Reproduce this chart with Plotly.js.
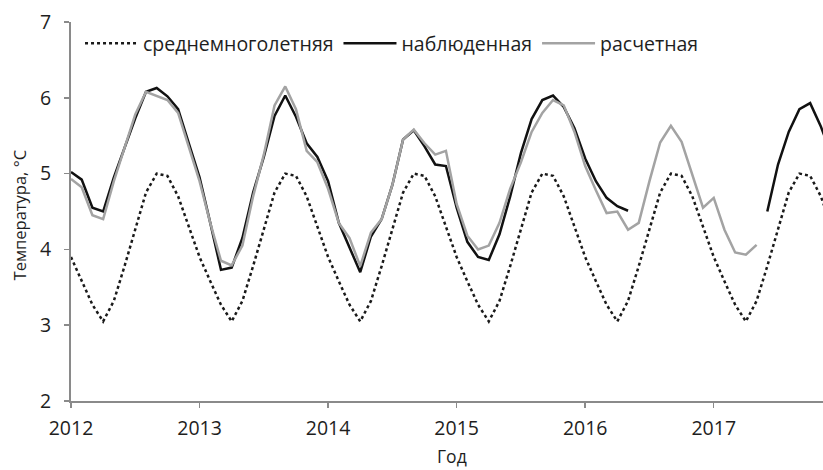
<!DOCTYPE html>
<html>
<head>
<meta charset="utf-8">
<script src="https://cdn.plot.ly/plotly-3.0.1.min.js"></script>
<style>
  html, body { margin: 0; padding: 0; background: #fff; }
  #chart { width: 823px; height: 470px; }
</style>
</head>
<body>
<div id="chart"></div>
<script>
// Monthly series, January 2012 – December 2017 (one value per month).
const startYear = 2012;
const yearTicks = [2012, 2013, 2014, 2015, 2016, 2017];
const yTicks = [2, 3, 4, 5, 6, 7];

// Long-term monthly mean water temperature, °C
const normal = [
  3.90, 3.58, 3.27, 3.05, 3.32, 3.78, 4.25, 4.75, 5.00, 4.97, 4.70, 4.30,
  3.90, 3.58, 3.27, 3.05, 3.32, 3.78, 4.25, 4.75, 5.00, 4.97, 4.70, 4.30,
  3.90, 3.58, 3.27, 3.05, 3.32, 3.78, 4.25, 4.75, 5.00, 4.97, 4.70, 4.30,
  3.90, 3.58, 3.27, 3.05, 3.32, 3.78, 4.25, 4.75, 5.00, 4.97, 4.70, 4.30,
  3.90, 3.58, 3.27, 3.05, 3.32, 3.78, 4.25, 4.75, 5.00, 4.97, 4.70, 4.30,
  3.90, 3.58, 3.27, 3.05, 3.32, 3.78, 4.25, 4.75, 5.00, 4.97, 4.70, 4.30
];

// Observed temperature, °C (gap: June 2016 – May 2017)
const observed = [
  5.02, 4.92, 4.55, 4.50, 4.95, 5.35, 5.73, 6.08, 6.13, 6.02, 5.85, 5.40,
  4.95, 4.35, 3.73, 3.76, 4.15, 4.75, 5.22, 5.76, 6.03, 5.75, 5.40, 5.22,
  4.90, 4.35, 4.03, 3.70, 4.17, 4.40, 4.85, 5.45, 5.57, 5.36, 5.12, 5.10,
  4.55, 4.10, 3.90, 3.86, 4.20, 4.70, 5.27, 5.72, 5.97, 6.03, 5.88, 5.60,
  5.20, 4.90, 4.68, 4.57, 4.51, null, null, null, null, null, null, null,
  null, null, null, null, null, 4.50, 5.12, 5.55, 5.85, 5.93, 5.62, 5.25
];

// Calculated temperature, °C (through May 2017)
const calculated = [
  4.93, 4.82, 4.45, 4.40, 4.90, 5.35, 5.78, 6.08, 6.03, 5.97, 5.80, 5.35,
  4.90, 4.35, 3.85, 3.79, 4.05, 4.70, 5.25, 5.90, 6.15, 5.85, 5.30, 5.15,
  4.80, 4.35, 4.15, 3.78, 4.22, 4.40, 4.85, 5.45, 5.58, 5.40, 5.25, 5.30,
  4.60, 4.18, 4.00, 4.05, 4.35, 4.80, 5.15, 5.55, 5.80, 5.97, 5.90, 5.55,
  5.10, 4.78, 4.48, 4.50, 4.26, 4.35, 4.90, 5.41, 5.63, 5.42, 4.98, 4.55,
  4.68, 4.26, 3.96, 3.93, 4.06, null, null, null, null, null, null, null
];

// Decimal-year position of each month
const t = normal.map((_, k) => startYear + k / 12);

const font = "'Open Sans', 'DejaVu Sans', sans-serif";
const axisGrey = '#8a8a8a';
const textCol = '#1e1e1e';

const traces = [
  {
    x: t, y: normal, name: 'среднемноголетняя', type: 'scatter', mode: 'lines',
    line: { color: '#1a1a1a', width: 2.5, dash: 'dot' }
  },
  {
    x: t, y: observed, name: 'наблюденная', type: 'scatter', mode: 'lines',
    connectgaps: false,
    line: { color: '#111111', width: 2.5 }
  },
  {
    x: t, y: calculated, name: 'расчетная', type: 'scatter', mode: 'lines',
    connectgaps: false,
    line: { color: '#a3a3a3', width: 2.5 }
  }
];

const layout = {
  width: 823, height: 470,
  margin: { l: 71, r: 0, t: 22, b: 69, pad: 0 },
  paper_bgcolor: '#fff', plot_bgcolor: '#fff',
  font: { family: font, size: 18, color: textCol },
  showlegend: true,
  legend: {
    orientation: 'h', x: 0.012, xanchor: 'left', y: 0.943, yanchor: 'middle',
    bgcolor: 'rgba(0,0,0,0)', font: { family: font, size: 19.5, color: textCol },
    itemwidth: 53, itemclick: false
  },
  xaxis: {
    range: [2012, 2017.85], tickvals: yearTicks, ticktext: yearTicks.map(String),
    showgrid: false, zeroline: false,
    showline: true, linecolor: axisGrey, linewidth: 2,
    ticks: 'outside', ticklen: 5, tickwidth: 1.5, tickcolor: axisGrey,
    tickfont: { family: font, size: 19.5, color: textCol },
    ticklabelstandoff: 4
  },
  yaxis: {
    range: [2, 7], tickvals: yTicks,
    showgrid: false, zeroline: false,
    showline: true, linecolor: axisGrey, linewidth: 2,
    ticks: 'outside', ticklen: 5, tickwidth: 1.5, tickcolor: axisGrey,
    tickfont: { family: font, size: 19.5, color: textCol },
    ticklabelstandoff: 9
  },
  annotations: [
    {
      text: 'Год', xref: 'paper', yref: 'paper', x: 0.507, y: -0.146,
      xanchor: 'center', yanchor: 'middle', showarrow: false,
      font: { family: font, size: 17.5, color: textCol }
    },
    {
      text: 'Температура, °С', xref: 'paper', yref: 'paper', x: -0.068, y: 0.492,
      xanchor: 'center', yanchor: 'middle', showarrow: false, textangle: -90,
      font: { family: font, size: 16.5, color: textCol }
    }
  ]
};

Plotly.newPlot('chart', traces, layout, { staticPlot: true, displayModeBar: false });
</script>
</body>
</html>
